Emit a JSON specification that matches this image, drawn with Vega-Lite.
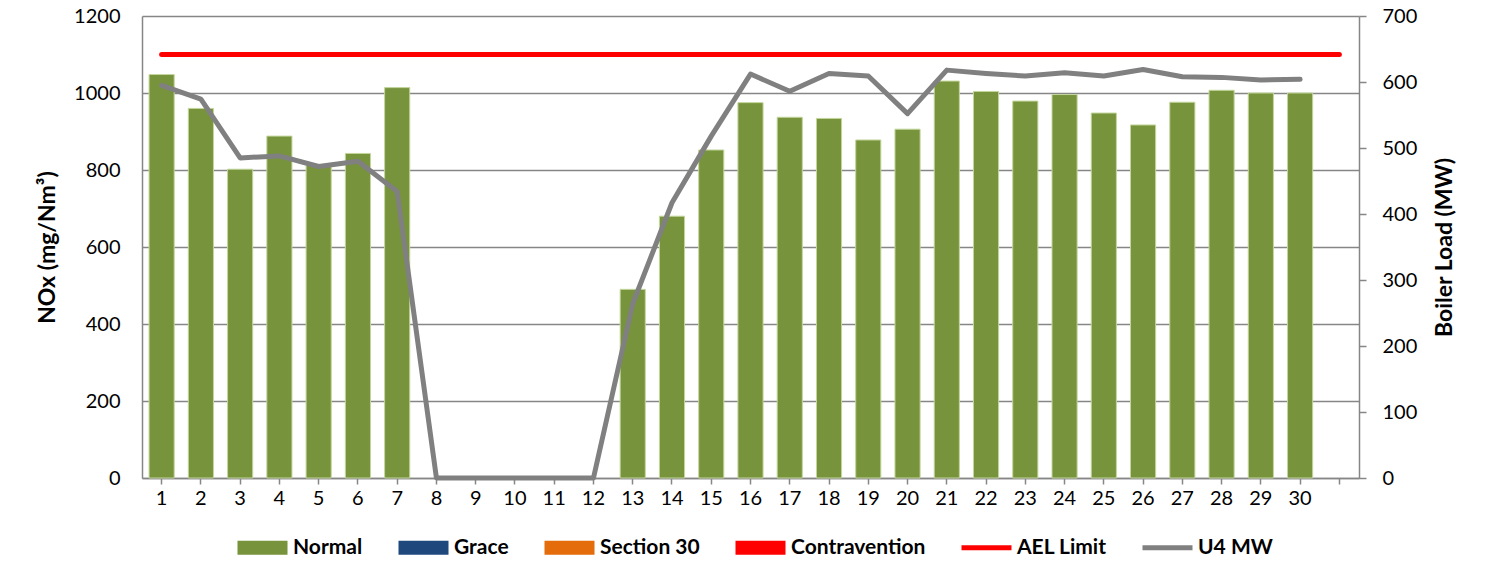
{
  "$schema": "https://vega.github.io/schema/vega-lite/v6.json",
  "width": 1217,
  "height": 462,
  "autosize": {"type": "none"},
  "padding": {"left": 142, "top": 16, "right": 135, "bottom": 104},
  "background": "white",
  "config": {
    "view": {"stroke": null},
    "font": "Lato",
    "axis": {
      "labelFont": "Lato",
      "labelFontSize": 20,
      "labelColor": "#000000",
      "titleFont": "Lato",
      "titleFontSize": 23,
      "titleFontWeight": "bold",
      "titleColor": "#000000",
      "domainColor": "#868686",
      "domainWidth": 1.5,
      "tickColor": "#868686",
      "tickWidth": 1.5,
      "gridColor": "#868686",
      "gridWidth": 1.5
    }
  },
  "data": {
    "values": [
      {"day": 1, "nox": 1048, "mw": 595, "ael": 1100},
      {"day": 2, "nox": 960, "mw": 574, "ael": 1100},
      {"day": 3, "nox": 802, "mw": 485, "ael": 1100},
      {"day": 4, "nox": 888, "mw": 488, "ael": 1100},
      {"day": 5, "nox": 812, "mw": 472, "ael": 1100},
      {"day": 6, "nox": 843, "mw": 480, "ael": 1100},
      {"day": 7, "nox": 1014, "mw": 434, "ael": 1100},
      {"day": 8, "nox": null, "mw": 0, "ael": 1100},
      {"day": 9, "nox": null, "mw": 0, "ael": 1100},
      {"day": 10, "nox": null, "mw": 0, "ael": 1100},
      {"day": 11, "nox": null, "mw": 0, "ael": 1100},
      {"day": 12, "nox": null, "mw": 0, "ael": 1100},
      {"day": 13, "nox": 490, "mw": 264, "ael": 1100},
      {"day": 14, "nox": 680, "mw": 417, "ael": 1100},
      {"day": 15, "nox": 852, "mw": 518, "ael": 1100},
      {"day": 16, "nox": 975, "mw": 612, "ael": 1100},
      {"day": 17, "nox": 937, "mw": 586, "ael": 1100},
      {"day": 18, "nox": 934, "mw": 613, "ael": 1100},
      {"day": 19, "nox": 878, "mw": 609, "ael": 1100},
      {"day": 20, "nox": 906, "mw": 552, "ael": 1100},
      {"day": 21, "nox": 1031, "mw": 618, "ael": 1100},
      {"day": 22, "nox": 1004, "mw": 613, "ael": 1100},
      {"day": 23, "nox": 979, "mw": 609, "ael": 1100},
      {"day": 24, "nox": 996, "mw": 614, "ael": 1100},
      {"day": 25, "nox": 948, "mw": 609, "ael": 1100},
      {"day": 26, "nox": 917, "mw": 619, "ael": 1100},
      {"day": 27, "nox": 976, "mw": 608, "ael": 1100},
      {"day": 28, "nox": 1007, "mw": 607, "ael": 1100},
      {"day": 29, "nox": 1000, "mw": 603, "ael": 1100},
      {"day": 30, "nox": 1000, "mw": 604, "ael": 1100},
      {"day": 31, "nox": null, "mw": null, "ael": 1100}
    ]
  },
  "encoding": {
    "x": {
      "field": "day",
      "type": "ordinal",
      "scale": {
        "domain": [1,2,3,4,5,6,7,8,9,10,11,12,13,14,15,16,17,18,19,20,21,22,23,24,25,26,27,28,29,30,31],
        "paddingInner": 0.36,
        "paddingOuter": 0.18
      },
      "axis": {
        "title": null,
        "labelAngle": 0,
        "tickSize": 6,
        "labelPadding": 4,
        "labelExpr": "datum.value == 31 ? '' : datum.label"
      }
    }
  },
  "layer": [
    {
      "layer": [
        {
          "transform": [{"filter": "datum.nox != null"}],
          "mark": {"type": "bar", "stroke": "#C3D69B", "strokeWidth": 1},
          "encoding": {
            "y": {
              "field": "nox",
              "type": "quantitative",
              "scale": {"domain": [0, 1200], "nice": false},
              "axis": {
                "title": "NOx (mg/Nm³)",
                "orient": "left",
                "format": "d",
                "values": [0, 200, 400, 600, 800, 1000, 1200],
                "ticks": false,
                "labelPadding": 22,
                "titlePadding": 14,
                "grid": true
              }
            },
            "color": {
              "datum": "Normal",
              "type": "nominal",
              "scale": {
                "domain": ["Normal", "Grace", "Section 30", "Contravention", "AEL Limit", "U4 MW"],
                "range": ["#77933C", "#1F497D", "#E46C0A", "#FF0000", "#FF0000", "#808080"]
              },
              "legend": {
                "title": null,
                "orient": "none",
                "legendX": 95,
                "legendY": 521,
                "direction": "horizontal",
                "symbolSize": 400,
                "symbolType": {"expr": "(datum.value == 'AEL Limit' || datum.value == 'U4 MW') ? 'M-1,-0.25H4V0.25H-1Z' : 'M-1,-0.7H4V0.7H-1Z'"},
                "symbolStrokeWidth": 0,
                "symbolOpacity": 1,
                "labelOffset": 35,
                "columnPadding": 35,
                "labelFont": "Lato",
                "labelFontSize": 21,
                "labelFontWeight": "bold",
                "labelColor": "#000000"
              }
            }
          }
        },
        {
          "mark": {"type": "line", "strokeWidth": 5, "strokeCap": "round"},
          "encoding": {
            "y": {"field": "ael", "type": "quantitative", "title": "NOx (mg/Nm³)"},
            "color": {"datum": "AEL Limit", "type": "nominal"}
          }
        }
      ]
    },
    {
      "transform": [{"filter": "datum.mw != null"}],
      "mark": {"type": "line", "strokeWidth": 5, "strokeCap": "round", "strokeJoin": "round"},
      "encoding": {
        "y": {
          "field": "mw",
          "type": "quantitative",
          "scale": {"domain": [0, 700], "nice": false},
          "axis": {
            "title": "Boiler Load (MW)",
            "orient": "right",
            "values": [0, 100, 200, 300, 400, 500, 600, 700],
            "grid": false,
            "tickSize": 7,
            "labelPadding": 16,
            "titleAngle": 270,
            "titlePadding": 40
          }
        },
        "color": {"datum": "U4 MW", "type": "nominal"}
      }
    }
  ],
  "resolve": {"scale": {"y": "independent"}}
}
